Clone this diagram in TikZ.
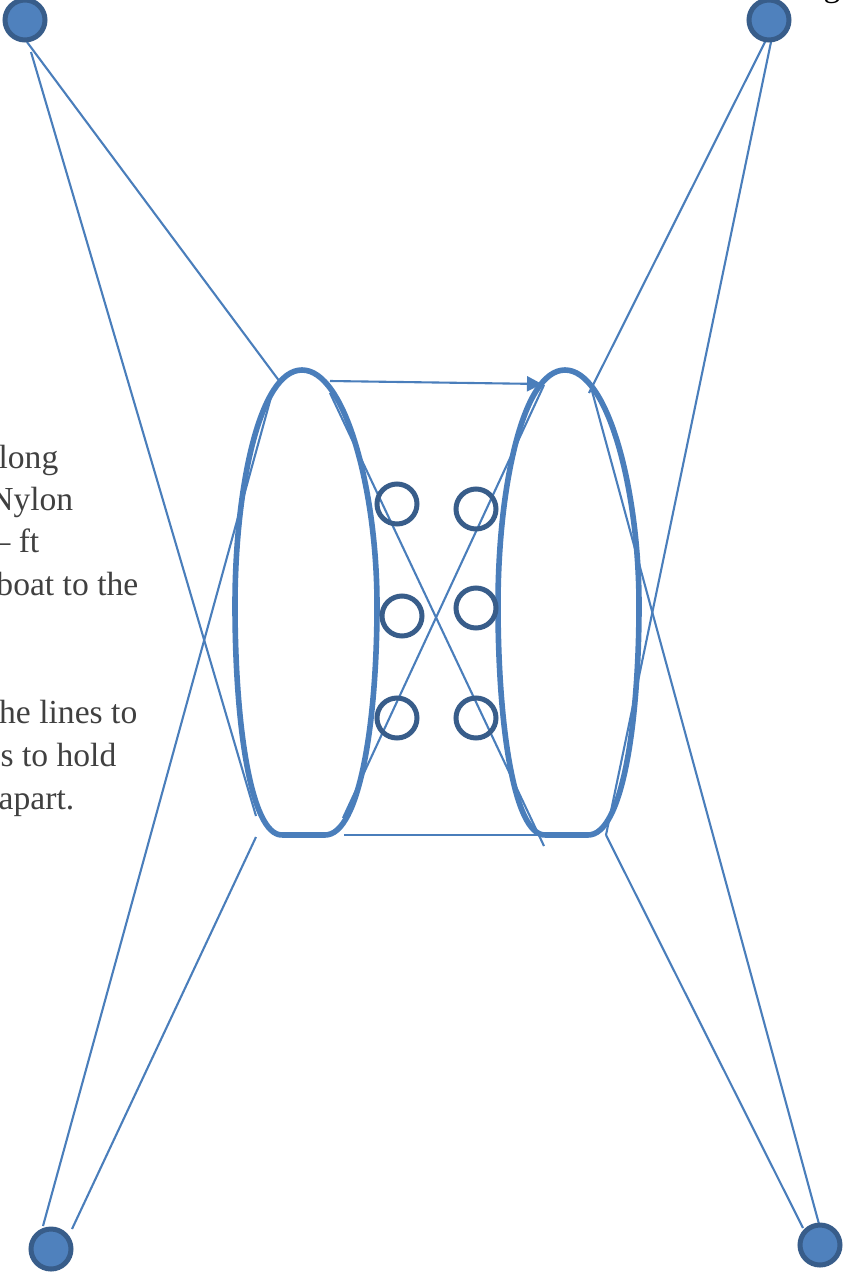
\documentclass[tikz,border=0pt]{standalone}
\usepackage{fontspec}
\setmainfont{Liberation Serif}
\usetikzlibrary{arrows.meta}
\definecolor{rope}{HTML}{4A7EBB}
\definecolor{dark}{HTML}{385D8A}
\definecolor{buoyfill}{HTML}{4F81BD}
\definecolor{txt}{HTML}{404040}
\tikzset{
  rope line/.style={draw=rope,line width=2.1pt},
  ring/.style={draw=rope,line width=5.6pt},
  float/.style={circle,draw=dark,line width=5pt,minimum size=40pt,inner sep=0pt},
  buoy/.style={circle,draw=dark,fill=buoyfill,line width=5pt,minimum size=40pt,inner sep=0pt},
  caption/.style={anchor=base east,inner sep=0pt,text=txt,font=\fontsize{33.6}{40}\selectfont}
}
\begin{document}
\begin{tikzpicture}[x=1pt,y=-1pt]
\useasboundingbox (0,0) rectangle (845,1275);
\clip (0,0) rectangle (845,1275);
% text
\node[caption] (t1) at (58.5,468) {long};
\node[caption] (t2) at (73.5,510) {Nylon};
\node[caption] (t3) at (39.5,552) {– ft};
\node[caption] (t4) at (138.5,595) {boat to the};
\node[caption] (t5) at (137.5,723) {the lines to};
\node[caption] (t6) at (116.5,766) {s to hold};
\node[caption] (t7) at (74.5,809) {apart.};
\node[anchor=base,inner sep=0pt,text=black,font=\fontsize{33.6}{40}\selectfont] (t8) at (832,-4) {g};
% anchor points of the lines
\coordinate (a1) at (31,52);   \coordinate (a2) at (27,42);
\coordinate (a3) at (766,40);  \coordinate (a4) at (771,42);
\coordinate (a5) at (43,1226); \coordinate (a6) at (72,1229);
\coordinate (a7) at (819,1224);\coordinate (a8) at (803,1228);
\coordinate (b1) at (256,816); \coordinate (b2) at (280,382);
\coordinate (b3) at (589,393); \coordinate (b4) at (606,835);
\coordinate (b5) at (273,390); \coordinate (b6) at (256,837);
\coordinate (b7) at (592,391); \coordinate (b8) at (606,835);
\coordinate (c1) at (330,393); \coordinate (c2) at (544,846);
\coordinate (c3) at (343,818); \coordinate (c4) at (544,385);
\coordinate (d1) at (330,381); \coordinate (d2) at (542,384);
\coordinate (e1) at (344,835); \coordinate (e2) at (545,835);
% rings
\draw[ring] (282,835) -- (325,835) .. controls (360,835) and (377,720) .. (377,605)
  .. controls (377,490) and (345,370) .. (302,370)
  .. controls (259,370) and (235,490) .. (235,605)
  .. controls (235,720) and (250,835) .. (282,835);
\draw[ring] (545,835) -- (588,835) .. controls (623,835) and (639,720) .. (639,605)
  .. controls (639,490) and (608,370) .. (565,370)
  .. controls (522,370) and (498,490) .. (498,605)
  .. controls (498,720) and (513,835) .. (545,835);
% lines
\draw[rope line] (a1) -- (b1);
\draw[rope line] (a2) -- (b2);
\draw[rope line] (a3) -- (b3);
\draw[rope line] (a4) -- (b4);
\draw[rope line] (a5) -- (b5);
\draw[rope line] (a6) -- (b6);
\draw[rope line] (a7) -- (b7);
\draw[rope line] (a8) -- (b8);
\draw[rope line] (c1) -- (c2);
\draw[rope line] (c3) -- (c4);
\draw[rope line,-{Triangle[length=15pt,width=15pt]}] (d1) -- (d2);
\draw[rope line] (e1) -- (e2);
% floats
\node[float] (f1) at (397,504) {};
\node[float] (f2) at (402,616) {};
\node[float] (f3) at (397,718) {};
\node[float] (f4) at (476,509) {};
\node[float] (f5) at (476,608) {};
\node[float] (f6) at (476,718) {};
% buoys
\node[buoy] (n1) at (25,20) {};
\node[buoy] (n2) at (769,20) {};
\node[buoy] (n3) at (51,1249) {};
\node[buoy] (n4) at (820,1245) {};
\end{tikzpicture}
\end{document}
